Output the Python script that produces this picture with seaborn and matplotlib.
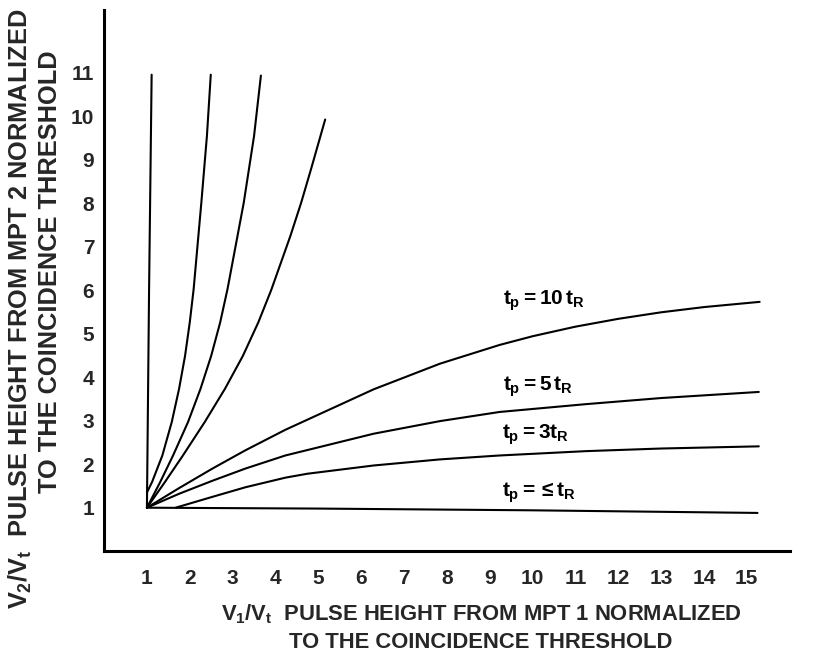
import numpy as np
import pandas as pd
import matplotlib
matplotlib.use("Agg")
import matplotlib.pyplot as plt
import seaborn as sns

# curvas inferiores: V2/Vt em funcao de V1/Vt
x_t10 = [1, 1.75, 2.53, 3.30, 4.23, 6.29, 7.84, 9.23, 10, 11, 12, 13, 14, 15.3]
y_t10 = [1, 1.45, 1.9, 2.32, 2.79, 3.72, 4.31, 4.74, 4.94, 5.16, 5.34, 5.49, 5.61, 5.73]
x_t5 = [1, 1.75, 2.53, 3.30, 4.23, 6.29, 7.84, 9.23, 11.25, 13, 15.28]
y_t5 = [1, 1.32, 1.62, 1.9, 2.2, 2.7, 2.99, 3.2, 3.38, 3.52, 3.66]
x_t3 = [1.67, 2.53, 3.30, 4.23, 4.74, 6.29, 7.84, 9.23, 11.25, 13, 15.28]
y_t3 = [1.0, 1.25, 1.47, 1.69, 1.78, 1.97, 2.11, 2.2, 2.3, 2.36, 2.41]
x_t1 = [1, 5, 10, 15.25]
y_t1 = [1.0, 0.98, 0.94, 0.88]

# curvas superiores (espelhadas): V1/Vt em funcao de V2/Vt
y_up1 = [1.0, 6.0, 10.95]
x_up1 = [1.0, 1.05, 1.11]
y_up2 = [1.35, 1.59, 2.2, 2.97, 3.73, 4.49, 5.26, 6.02, 8.01, 9.54, 10.95]
x_up2 = [1.0, 1.12, 1.36, 1.58, 1.75, 1.89, 2.0, 2.09, 2.27, 2.40, 2.49]
y_up3 = [1.0, 1.59, 2.2, 2.97, 3.73, 4.49, 5.26, 6.02, 8.01, 9.54, 10.93]
x_up3 = [1.0, 1.31, 1.61, 1.96, 2.25, 2.50, 2.71, 2.88, 3.26, 3.50, 3.66]
y_up4 = [1.0, 1.59, 2.2, 2.97, 3.73, 4.49, 5.26, 6.0, 7.25, 8.01, 8.78, 9.92]
x_up4 = [1.0, 1.42, 1.84, 2.35, 2.82, 3.24, 3.60, 3.90, 4.35, 4.60, 4.83, 5.16]

x_ticks = list(range(1, 16))
y_ticks = list(range(1, 12))

# rotulos das curvas
curve_labels = [r"$t_p = 10\,t_R$", r"$t_p = 5\,t_R$", r"$t_p = 3t_R$", r"$t_p = \leq t_R$"]
label_x = [9.3, 9.3, 9.28, 9.28]
label_y = [5.75, 3.77, 2.67, 1.35]

sns.set_style("white")
plt.rcParams['font.family'] = ['Liberation Sans', 'DejaVu Sans']
plt.rcParams['font.weight'] = 'bold'
plt.rcParams['mathtext.fontset'] = 'custom'
plt.rcParams['mathtext.rm'] = 'Liberation Sans:bold'
plt.rcParams['mathtext.it'] = 'Liberation Sans:bold'
plt.rcParams['mathtext.bf'] = 'Liberation Sans:bold'

fig = plt.figure(figsize=(8.26, 6.57), dpi=100)
ax = fig.add_axes([0.126, 0.161, 0.83, 0.824])

lw = 1.5
for xs, ys in [(x_t10, y_t10), (x_t5, y_t5), (x_t3, y_t3), (x_t1, y_t1)]:
    sns.lineplot(x=xs, y=ys, ax=ax, color='black', linewidth=lw, sort=False, estimator=None)
for xs, ys in [(x_up1, y_up1), (x_up2, y_up2), (x_up3, y_up3), (x_up4, y_up4)]:
    sns.lineplot(x=xs, y=ys, ax=ax, color='black', linewidth=lw, sort=False, estimator=None)

for txt, lx, ly in zip(curve_labels, label_x, label_y):
    ax.text(lx, ly, txt, fontsize=15, va='center', ha='left', color='black')

ax.set_xlim(0, 16)
ax.set_ylim(0, 12.44)
ax.set_xticks(x_ticks)
ax.set_yticks(y_ticks)
ax.tick_params(axis='both', length=0, labelsize=15)
ax.tick_params(axis='x', pad=13)
ax.tick_params(axis='y', pad=7)
for lab in ax.get_xticklabels() + ax.get_yticklabels():
    lab.set_fontweight('bold')

sns.despine(ax=ax)
ax.spines['left'].set_linewidth(2.2)
ax.spines['bottom'].set_linewidth(2.2)
ax.spines['left'].set_color('black')
ax.spines['bottom'].set_color('black')

fig.text(481 / 826, 1 - 614 / 657, r"$V_1/V_t$  PULSE HEIGHT FROM MPT 1 NORMALIZED",
         ha='center', va='center', fontsize=15.8, fontweight='bold')
fig.text(481 / 826, 1 - 642 / 657, "TO THE COINCIDENCE THRESHOLD",
         ha='center', va='center', fontsize=15.8, fontweight='bold')
fig.text(20 / 826, 1 - 309 / 657, r"$V_2/V_t$  PULSE HEIGHT FROM MPT 2 NORMALIZED",
         ha='center', va='center', fontsize=18.3, fontweight='bold', rotation=90)
fig.text(50 / 826, 1 - 272 / 657, "TO THE COINCIDENCE THRESHOLD",
         ha='center', va='center', fontsize=18.3, fontweight='bold', rotation=90)

fig.savefig("out.png", dpi=100, facecolor='white')
